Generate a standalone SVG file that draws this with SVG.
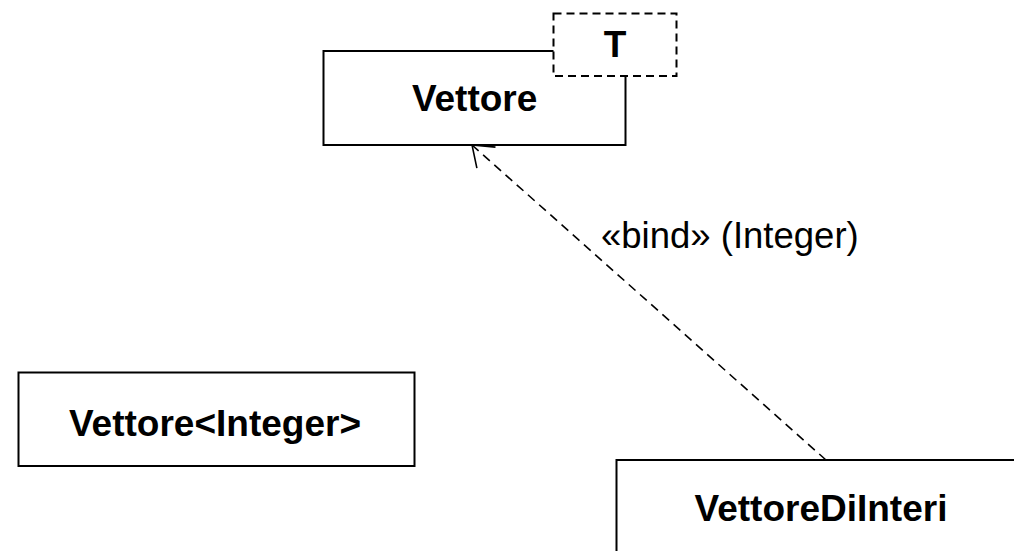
<svg xmlns="http://www.w3.org/2000/svg" width="1014" height="551" viewBox="0 0 1014 551">
<defs>
<style>
.box{fill:#fff;stroke:#000;stroke-width:2}
.tpl{fill:#fff;stroke:#000;stroke-width:2;stroke-dasharray:8,5}
.name{font-family:"Liberation Sans",Arial,sans-serif;font-weight:bold;font-size:37px;text-anchor:middle;fill:#000}
.lbl{font-family:"Liberation Sans",Arial,sans-serif;font-size:36.5px;fill:#000}
.dep{fill:none;stroke:#000;stroke-width:1.6;stroke-dasharray:9,6}
</style>
<marker id="open" viewBox="0 0 24 30" refX="23" refY="15" markerWidth="24" markerHeight="30" markerUnits="userSpaceOnUse" orient="auto">
<path d="M4,1 L23,15 L4,29" fill="none" stroke="#000" stroke-width="1.6"/>
</marker>
</defs>
<rect width="1014" height="551" fill="#fff"/>
<g id="node-vettore">
<rect class="box" x="323.5" y="51" width="302" height="94"/>
<text class="name" x="474.6" y="111">Vettore</text>
</g>
<g id="node-vettore-T">
<rect class="tpl" x="553.5" y="13.5" width="123" height="62.5"/>
<text class="name" x="615" y="57">T</text>
</g>
<g id="node-vettore-integer">
<rect class="box" x="18.5" y="372.5" width="396" height="93.5"/>
<text class="name" x="215" y="436">Vettore&lt;Integer&gt;</text>
</g>
<g id="node-vettoredi">
<rect class="box" x="616.5" y="460" width="420" height="120"/>
<text class="name" x="821" y="521">VettoreDiInteri</text>
</g>
<g id="connectors">
<line class="dep" x1="826" y1="460" x2="472" y2="145" marker-end="url(#open)"/>
<text class="lbl" x="601" y="248">«bind» (Integer)</text>
</g>
</svg>
